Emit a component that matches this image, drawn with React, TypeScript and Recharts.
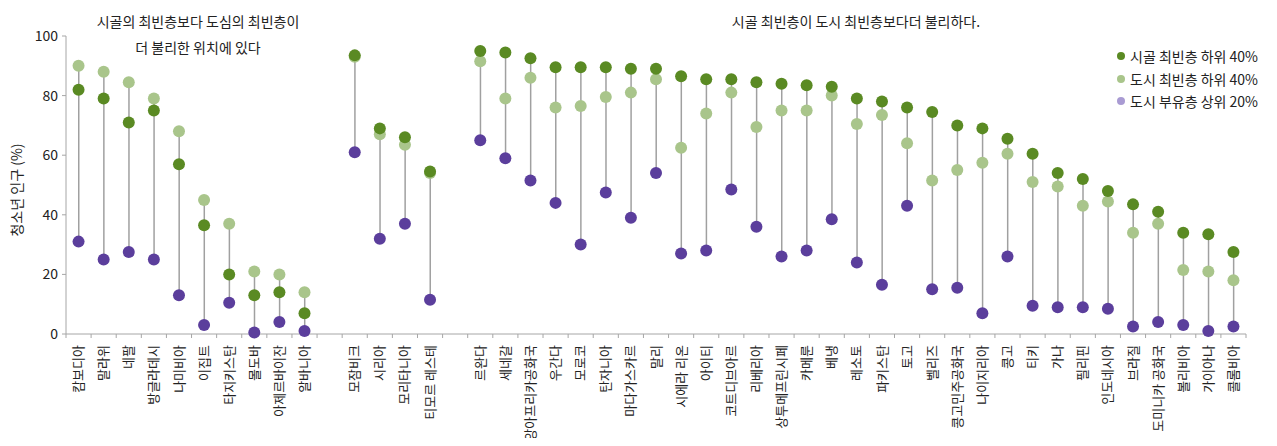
import React from "react";
import {
  ComposedChart,
  Bar,
  Line,
  XAxis,
  YAxis,
} from "recharts";

const FONT = "'Noto Sans CJK KR', 'Noto Sans', sans-serif";
const AXIS = "#a6a6a6";
const TEXT = "#222";

// "" = empty slot between groups
const categories = [
  "캄보디아", "말라위", "네팔", "방글라데시", "나미비아", "이집트", "타지키스탄", "몰도바", "아제르바이잔", "알바니아",
  "",
  "모잠비크", "시리아", "모리타니아", "티모르 레스테",
  "",
  "르완다", "세네갈", "중앙아프리카공화국", "우간다", "모로코", "탄자니아", "마다가스카르", "말리", "시에라 리온", "아이티",
  "코트디브아르", "리베리아", "상투메프린시페", "카메룬", "베냉", "레소토", "파키스탄", "토고", "벨리즈", "콩고민주공화국",
  "나이지리아", "콩고", "티키", "가나", "필리핀", "인도네시아", "브라질", "도미니카 공화국", "볼리비아", "가이아나", "콜롬비아",
];

const ruralPoor = [
  82, 79, 71, 75, 57, 36.5, 20, 13, 14, 7,
  null,
  93.5, 69, 66, 54.5,
  null,
  95, 94.5, 92.5, 89.5, 89.5, 89.5, 89, 89, 86.5, 85.5,
  85.5, 84.5, 84, 83.5, 83, 79, 78, 76, 74.5, 70,
  69, 65.5, 60.5, 54, 52, 48, 43.5, 41, 34, 33.5, 27.5,
];

const urbanPoor = [
  90, 88, 84.5, 79, 68, 45, 37, 21, 20, 14,
  null,
  93, 67, 63.5, 54,
  null,
  91.5, 79, 86, 76, 76.5, 79.5, 81, 85.5, 62.5, 74,
  81, 69.5, 75, 75, 80, 70.5, 73.5, 64, 51.5, 55,
  57.5, 60.5, 51, 49.5, 43, 44.5, 34, 37, 21.5, 21, 18,
];

const urbanRich = [
  31, 25, 27.5, 25, 13, 3, 10.5, 0.5, 4, 1,
  null,
  61, 32, 37, 11.5,
  null,
  65, 59, 51.5, 44, 30, 47.5, 39, 54, 27, 28,
  48.5, 36, 26, 28, 38.5, 24, 16.5, 43, 15, 15.5,
  7, 26, 9.5, 9, 9, 8.5, 2.5, 4, 3, 1, 2.5,
];

const yTicks = [0, 20, 40, 60, 80, 100];

const series = [
  { key: "rural", name: "시골 최빈층 하위 40%", color: "#5a8a23", legend: "#5a8a23" },
  { key: "urban", name: "도시 최빈층 하위 40%", color: "#a9c58b", legend: "#a9c58b" },
  { key: "rich", name: "도시 부유층 상위 20%", color: "#5b3e9c", legend: "#a99bd3" },
];

const data = categories.map((name, i) => {
  const vals = [ruralPoor[i], urbanPoor[i], urbanRich[i]].filter((v) => v != null) as number[];
  return {
    idx: i,
    name,
    rural: ruralPoor[i],
    urban: urbanPoor[i],
    rich: urbanRich[i],
    range: vals.length ? [Math.min(...vals), Math.max(...vals)] : null,
  };
});

// integers carry labels, half steps carry the tick marks
const xTicks: number[] = [];
for (let i = -0.5; i <= categories.length - 0.5; i += 0.5) xTicks.push(i);

const XTick = (props: any) => {
  const { x, y, payload } = props;
  const v = payload.value as number;
  if (!Number.isInteger(v)) {
    return <line x1={x} x2={x} y1={y} y2={y + 4} stroke={AXIS} strokeWidth={1} />;
  }
  const label = categories[v];
  if (!label) return <g />;
  return (
    <text
      transform={`translate(${x},${y + 11}) rotate(-90)`}
      textAnchor="end"
      dy="0.35em"
      fontSize={13}
      fill={TEXT}
      fontFamily={FONT}
    >
      {label}
    </text>
  );
};

const YLabel = (props: any) => {
  const { viewBox } = props;
  const cx = viewBox.x + 9;
  const cy = viewBox.y + viewBox.height / 2 + 5;
  return (
    <text
      transform={`translate(${cx},${cy}) rotate(-90)`}
      textAnchor="middle"
      dy="0.35em"
      fontSize={14}
      fill={TEXT}
      fontFamily={FONT}
    >
      청소년 인구 (%)
    </text>
  );
};

const ChartLegend = () => (
  <div
    style={{
      position: "absolute",
      left: 1109,
      top: 37,
      fontFamily: FONT,
      fontSize: 14,
      color: TEXT,
    }}
  >
    {series.map((s) => (
      <div key={s.key} style={{ display: "flex", alignItems: "center", height: 22.5, whiteSpace: "nowrap" }}>
        <span
          style={{
            display: "inline-block",
            width: 8,
            height: 8,
            borderRadius: 4,
            background: s.legend,
            marginRight: 5,
          }}
        />
        <span>{s.name}</span>
      </div>
    ))}
  </div>
);

export default function App() {
  return (
    <div style={{ position: "relative", width: 1261, height: 430, fontFamily: FONT }}>
      <ComposedChart
        width={1261}
        height={430}
        data={data}
        margin={{ top: 28, right: 23, left: 0, bottom: 0 }}
      >
        <XAxis
          dataKey="idx"
          type="number"
          domain={[-0.5, categories.length - 0.5]}
          ticks={xTicks}
          interval={0}
          tick={<XTick />}
          tickLine={false}
          tickSize={0}
          tickMargin={0}
          height={104}
          stroke={AXIS}
          allowDecimals
        />
        <YAxis
          type="number"
          domain={[0, 100]}
          ticks={yTicks}
          width={58}
          tickSize={4}
          tickMargin={4}
          stroke={AXIS}
          tick={{ fill: TEXT, fontSize: 14, fontFamily: FONT }}
          label={<YLabel />}
        />
        <Bar
          dataKey="range"
          barSize={1.5}
          fill="#a0a0a0"
          isAnimationActive={false}
          legendType="none"
        />
        <Line
          dataKey="urban"
          name={series[1].name}
          stroke="none"
          dot={{ r: 6, fill: series[1].color, stroke: "none" }}
          activeDot={false}
          isAnimationActive={false}
        />
        <Line
          dataKey="rural"
          name={series[0].name}
          stroke="none"
          dot={{ r: 6, fill: series[0].color, stroke: "none" }}
          activeDot={false}
          isAnimationActive={false}
        />
        <Line
          dataKey="rich"
          name={series[2].name}
          stroke="none"
          dot={{ r: 6, fill: series[2].color, stroke: "none" }}
          activeDot={false}
          isAnimationActive={false}
        />
      </ComposedChart>
      <div
        style={{
          position: "absolute",
          left: 40,
          top: 0,
          width: 300,
          textAlign: "center",
          fontSize: 14,
          lineHeight: "26px",
          color: TEXT,
        }}
      >
        시골의 최빈층보다 도심의 최빈층이
        <br />
        더 불리한 위치에 있다
      </div>
      <div
        style={{
          position: "absolute",
          left: 648,
          top: 0,
          width: 400,
          textAlign: "center",
          fontSize: 14,
          lineHeight: "26px",
          color: TEXT,
        }}
      >
        시골 최빈층이 도시 최빈층보다더 불리하다.
      </div>
      <ChartLegend />
    </div>
  );
}
